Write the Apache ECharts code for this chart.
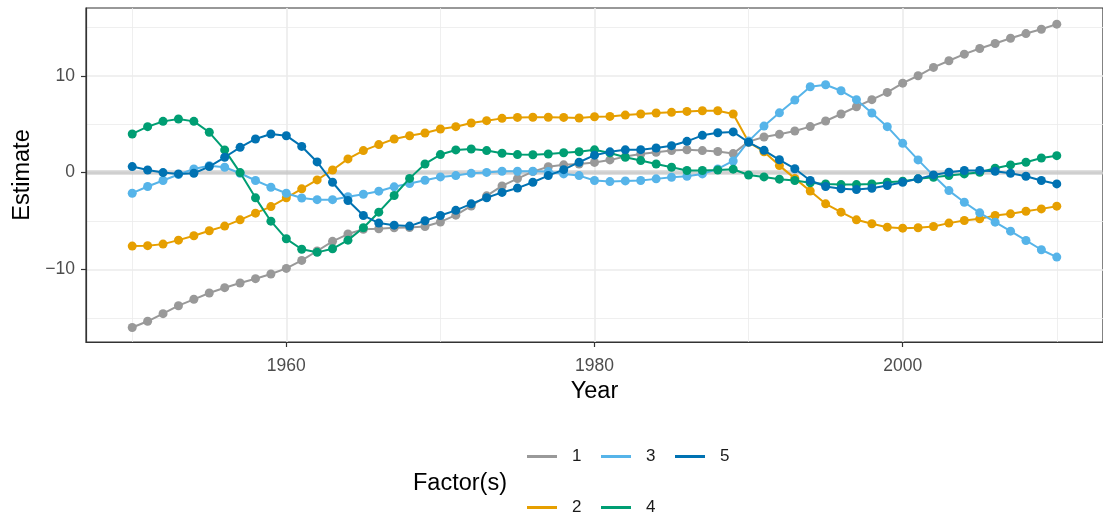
<!DOCTYPE html>
<html>
<head>
<meta charset="utf-8">
<script src="https://cdn.jsdelivr.net/npm/echarts@6/dist/echarts.min.js"></script>
<style>
  html, body { margin: 0; padding: 0; background: #ffffff; }
  #chart { width: 1103px; height: 518px; }
</style>
</head>
<body>
<div id="chart"></div>
<script>
// Annual estimates of five factors, 1950–2010
const years = [];
for (let y = 1950; y <= 2010; y++) years.push(y);

const factorNames = ['1', '2', '3', '4', '5'];
const factorColors = ['#999999', '#E69F00', '#56B4E9', '#009E73', '#0072B2'];

const factor1 = [
  -16.0, -15.36, -14.57, -13.75, -13.09, -12.44, -11.89, -11.41, -10.96, -10.48,
  -9.90, -9.07, -8.1, -7.1, -6.35, -5.85, -5.8, -5.7, -5.67, -5.57,
  -5.1, -4.4, -3.45, -2.4, -1.38, -0.62, 0.1, 0.6, 0.8, 0.88,
  1.05, 1.31, 1.65, 1.92, 2.1, 2.27, 2.36, 2.27, 2.18, 1.96,
  3.2, 3.68, 3.95, 4.3, 4.75, 5.33, 6.05, 6.8, 7.53, 8.28,
  9.24, 10.0, 10.86, 11.55, 12.23, 12.82, 13.33, 13.88, 14.36, 14.81,
  15.33
];
const factor2 = [
  -7.59, -7.55, -7.39, -6.98, -6.53, -6.01, -5.53, -4.88, -4.19, -3.51,
  -2.61, -1.68, -0.76, 0.27, 1.41, 2.27, 2.89, 3.47, 3.81, 4.09,
  4.5, 4.74, 5.12, 5.36, 5.6, 5.7, 5.72, 5.72, 5.7, 5.64,
  5.77, 5.8, 5.94, 6.05, 6.15, 6.22, 6.32, 6.39, 6.39, 6.05,
  3.15, 2.15, 0.72, -0.6, -1.9, -3.23, -4.09, -4.88, -5.29, -5.64,
  -5.74, -5.7, -5.57, -5.22, -4.95, -4.78, -4.43, -4.26, -3.99, -3.75,
  -3.47
];
const factor3 = [
  -2.13, -1.44, -0.82, -0.2, 0.38, 0.7, 0.55, -0.07, -0.82, -1.51,
  -2.13, -2.63, -2.8, -2.8, -2.5, -2.24, -1.92, -1.47, -1.13, -0.79,
  -0.45, -0.31, -0.08, 0.02, 0.14, 0.14, 0.14, 0.1, -0.14, -0.31,
  -0.82, -0.93, -0.86, -0.82, -0.65, -0.48, -0.38, -0.14, 0.38, 1.2,
  3.25, 4.8, 6.17, 7.49, 8.87, 9.07, 8.45, 7.53, 6.15, 4.74,
  3.02, 1.31, -0.31, -1.86, -3.06, -4.16, -5.12, -6.05, -7.01, -7.97,
  -8.73
];
const factor4 = [
  3.99, 4.74, 5.29, 5.53, 5.29, 4.16, 2.34, 0.0, -2.61, -5.02,
  -6.84, -7.92, -8.24, -7.87, -6.98, -5.7, -4.09, -2.37, -0.6, 0.89,
  1.86, 2.34, 2.44, 2.27, 2.0, 1.86, 1.84, 1.92, 2.05, 2.15,
  2.35, 2.03, 1.58, 1.24, 0.89, 0.55, 0.21, 0.21, 0.27, 0.35,
  -0.25, -0.45, -0.68, -0.82, -1.05, -1.17, -1.24, -1.24, -1.17, -1.0,
  -0.89, -0.65, -0.48, -0.31, -0.14, 0.03, 0.45, 0.79, 1.07, 1.51,
  1.75
];
const factor5 = [
  0.62, 0.27, 0.0, -0.14, -0.07, 0.62, 1.58, 2.61, 3.47, 3.99,
  3.81, 2.7, 1.1, -1.0, -2.89, -4.43, -5.22, -5.43, -5.53, -4.98,
  -4.43, -3.9, -3.23, -2.6, -2.05, -1.6, -1.0, -0.31, 0.3, 1.07,
  1.8, 2.14, 2.35, 2.37, 2.54, 2.78, 3.23, 3.85, 4.12, 4.2,
  3.13, 2.3, 1.32, 0.4, -0.82, -1.44, -1.68, -1.75, -1.62, -1.34,
  -1.0, -0.65, -0.24, 0.03, 0.21, 0.21, 0.14, -0.07, -0.38, -0.82,
  -1.17
];
const factorValues = [factor1, factor2, factor3, factor4, factor5];

// Axis ticks and grid positions
const xTicks = [1960, 1980, 2000];
const xMinorGrid = [1950, 1970, 1990, 2010];
const yTicks = [-10, 0, 10];
const yMinorGrid = [-15, -5, 5, 15];

const FONT = 'Liberation Sans, Arial, sans-serif';
const gridColor = '#ebebeb';

const gridLines = [].concat(
  xMinorGrid.map(v => ({ xAxis: v, lineStyle: { color: gridColor, width: 0.8, type: 'solid' } })),
  yMinorGrid.map(v => ({ yAxis: v, lineStyle: { color: gridColor, width: 0.8, type: 'solid' } })),
  xTicks.map(v => ({ xAxis: v, lineStyle: { color: gridColor, width: 1.6, type: 'solid' } })),
  yTicks.map(v => ({ yAxis: v, lineStyle: { color: gridColor, width: 1.6, type: 'solid' } }))
);

const series = [{
  name: 'grid',
  type: 'line',
  data: [],
  z: 0,
  silent: true,
  markLine: {
    silent: true,
    animation: false,
    symbol: ['none', 'none'],
    label: { show: false },
    emphasis: { disabled: true },
    z: 0,
    data: gridLines.concat([
      { yAxis: 0, lineStyle: { color: 'rgba(185,185,185,0.6)', width: 4.5, type: 'solid' } }
    ])
  }
}];

factorNames.forEach((name, i) => {
  series.push({
    name: name,
    type: 'line',
    data: years.map((yr, k) => [yr, factorValues[i][k]]),
    symbol: 'circle',
    symbolSize: 9,
    showSymbol: true,
    z: 3 + i,
    color: factorColors[i],
    lineStyle: { width: 2, color: factorColors[i] },
    itemStyle: { color: factorColors[i] },
    emphasis: { disabled: true },
    animation: false
  });
});

// Legend laid out in two rows, filled column by column
const legendSlots = [
  { name: '1', left: 527, top: 448 },
  { name: '2', left: 527, top: 499 },
  { name: '3', left: 601, top: 448 },
  { name: '4', left: 601, top: 499 },
  { name: '5', left: 675, top: 448 }
];
const legends = legendSlots.map(s => ({
  data: [{ name: s.name, icon: 'rect' }],
  left: s.left,
  top: s.top,
  padding: 0,
  itemWidth: 30,
  itemHeight: 3,
  selectedMode: false,
  textStyle: { fontFamily: FONT, fontSize: 17, color: '#1a1a1a', padding: [0, 0, 0, 10] }
}));

const chart = echarts.init(document.getElementById('chart'), null, { renderer: 'canvas' });
chart.setOption({
  animation: false,
  backgroundColor: '#ffffff',
  grid: {
    left: 86, top: 8, width: 1023, height: 334,
    show: true, borderColor: '#333333', borderWidth: 1.2, backgroundColor: 'transparent'
  },
  xAxis: {
    type: 'value',
    min: 1947, max: 2013,
    name: 'Year',
    nameLocation: 'middle',
    nameGap: 37,
    nameTextStyle: { fontFamily: FONT, fontSize: 23.5, color: '#000000' },
    axisLine: { show: true, onZero: false, lineStyle: { color: '#333333', width: 1.2 } },
    axisTick: { show: true, customValues: xTicks, length: 5, lineStyle: { color: '#333333', width: 1.2 } },
    axisLabel: {
      customValues: xTicks, fontFamily: FONT, fontSize: 17.5, color: '#4d4d4d', margin: 15,
      formatter: v => String(v)
    },
    splitLine: { show: false }
  },
  yAxis: {
    type: 'value',
    min: -17.5, max: 17.0,
    name: 'Estimate',
    nameLocation: 'middle',
    nameRotate: 90,
    nameGap: 51,
    nameTextStyle: { fontFamily: FONT, fontSize: 23.5, color: '#000000' },
    axisLine: { show: true, onZero: false, lineStyle: { color: '#333333', width: 1.2 } },
    axisTick: { show: true, customValues: yTicks, length: 5, lineStyle: { color: '#333333', width: 1.2 } },
    axisLabel: {
      customValues: yTicks, fontFamily: FONT, fontSize: 17.5, color: '#4d4d4d', margin: 11,
      formatter: v => (v < 0 ? '\u2212' + Math.abs(v) : String(v))
    },
    splitLine: { show: false }
  },
  legend: legends,
  graphic: [{
    type: 'text',
    left: 413,
    top: 472,
    style: { text: 'Factor(s)', fontFamily: FONT, fontSize: 23.5, fill: '#000000' }
  }],
  series: series
});
</script>
</body>
</html>
